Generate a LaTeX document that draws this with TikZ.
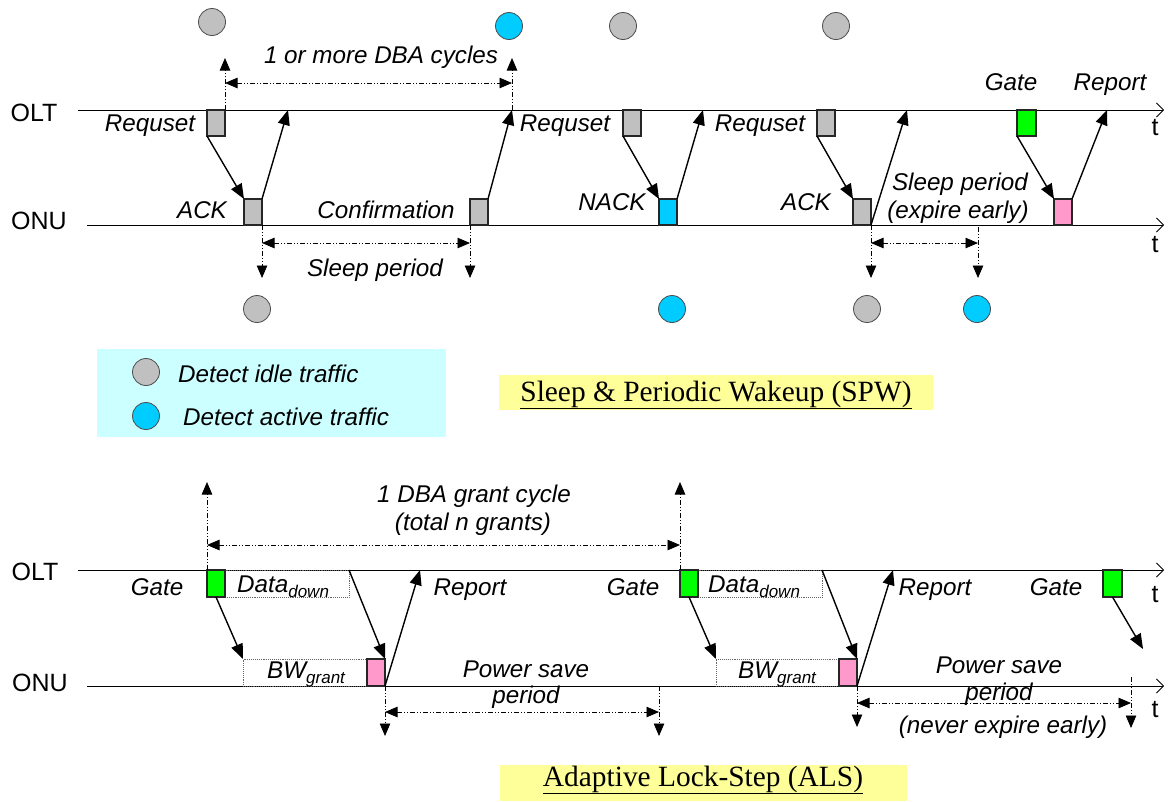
\documentclass[tikz,border=0pt]{standalone}
\usepackage{fontspec}
\setmainfont{Liberation Sans}
\newfontfamily\serifface{Liberation Serif}
\usetikzlibrary{arrows.meta}
\definecolor{boxgray}{HTML}{C0C0C0}
\definecolor{boxcyan}{HTML}{00CCFF}
\definecolor{boxgreen}{HTML}{00FF00}
\definecolor{boxpink}{HTML}{FF99CC}
\definecolor{legendbg}{HTML}{CCFFFF}
\definecolor{titlebg}{HTML}{FFFF99}
\newcommand{\sub}[1]{\raisebox{-5pt}{\fontsize{17}{20}\selectfont #1}}
\begin{document}
\begin{tikzpicture}[x=1pt,y=-1pt,
  axis/.style={line width=1pt,-{Straight Barb[length=7pt,width=14pt,line width=0.8pt]}},
  pkt/.style={draw=black!85,line width=1.2pt,inner sep=0pt,outer sep=0pt,minimum width=18pt,minimum height=26pt,anchor=north west},
  pktb/.style={pkt,minimum height=27pt},
  datarect/.style={draw=black!60,densely dotted,line width=0.9pt,inner sep=0pt,outer sep=0pt,minimum height=27pt,anchor=north west},
  msg/.style={line width=1.4pt,-{Triangle[length=15pt,width=12pt]}},
  dim/.style={line width=0.8pt,dash pattern=on 5pt off 2pt on 1pt off 2pt on 1pt off 2pt,-{Triangle[length=12.5pt,width=10.5pt]}},
  ddim/.style={dim,{Triangle[length=12.5pt,width=10.5pt]}-{Triangle[length=12.5pt,width=10.5pt]}},
  lbl/.style={font=\fontsize{24.2}{28}\selectfont\itshape,inner sep=0pt,anchor=base},
  axlbl/.style={font=\fontsize{25}{28}\selectfont,inner sep=0pt,anchor=base},
  dot/.style={circle,draw=black!70,line width=0.8pt,minimum size=27pt,inner sep=0pt},
  title/.style={font=\serifface\fontsize{29.4}{32}\selectfont,inner sep=0pt,anchor=base}
]
\useasboundingbox (0,0) rectangle (1174,801);

% ================= TOP: SPW =================
\coordinate (olt1s) at (78,110);
\coordinate (olt1e) at (1164,110);
\coordinate (onu1s) at (87,225);
\coordinate (onu1e) at (1164,225);
\draw[axis] (olt1s) -- (olt1e);
\draw[axis] (onu1s) -- (onu1e);
\node[axlbl] (oltA) at (34,121) {OLT};
\node[axlbl] (onuA) at (39,229) {ONU};
\node[axlbl] (tA1) at (1155,135) {t};
\node[axlbl] (tA2) at (1155,252) {t};

% packets
\node[pkt,fill=boxgray] (q1) at (207,110) {};
\node[pkt,fill=boxgray] (a1) at (244,199) {};
\node[pkt,fill=boxgray] (c1) at (470,199) {};
\node[pkt,fill=boxgray] (q2) at (623,110) {};
\node[pkt,fill=boxcyan] (n1) at (659,199) {};
\node[pkt,fill=boxgray] (q3) at (817,110) {};
\node[pkt,fill=boxgray] (a2) at (853,199) {};
\node[pkt,fill=boxgreen,minimum width=19pt] (g1) at (1017,110) {};
\node[pkt,fill=boxpink] (p1) at (1054,199) {};

% messages
\coordinate (r1) at (288,110);
\coordinate (r2) at (512,110);
\coordinate (r3) at (703,110);
\coordinate (r4) at (907,110);
\coordinate (r5) at (1107,110);
\draw[msg] (q1.south west) -- (a1.north west);
\draw[msg] (a1.north east) -- (r1);
\draw[msg] (c1.north east) -- (r2);
\draw[msg] (q2.south west) -- (n1.north west);
\draw[msg] (n1.north east) -- (r3);
\draw[msg] (q3.south west) -- (a2.north west);
\draw[msg] (a2.south east) -- (r4);
\draw[msg] (g1.south west) -- (p1.north west);
\draw[msg] (p1.north east) -- (r5);

% dimension lines
\coordinate (u1) at (225,58);
\coordinate (u2) at (512,58);
\coordinate (h1a) at (225,83);
\coordinate (h1b) at (512,83);
\draw[dim] (q1.north east) -- (u1);
\draw[dim] (r2) -- (u2);
\draw[ddim] (h1a) -- (h1b);

\coordinate (d1) at (262,278);
\coordinate (d2) at (470,278);
\coordinate (h2a) at (262,243);
\coordinate (h2b) at (470,243);
\draw[dim] (a1.south east) -- (d1);
\draw[dim] (c1.south west) -- (d2);
\draw[ddim] (h2a) -- (h2b);

\coordinate (e4) at (978,227);
\coordinate (d3) at (871,278);
\coordinate (d4) at (978,278);
\coordinate (h3a) at (871,243);
\coordinate (h3b) at (978,243);
\draw[dim] (a2.south east) -- (d3);
\draw[dim] (e4) -- (d4);
\draw[ddim] (h3a) -- (h3b);

% labels
\node[lbl] (t1) at (381,63) {1 or more DBA cycles};
\node[lbl] (t2) at (150,131) {Requset};
\node[lbl] (t3) at (202,218) {ACK};
\node[lbl] (t4) at (386,218) {Confirmation};
\node[lbl] (t5) at (375,276) {Sleep period};
\node[lbl] (t6) at (565,131) {Requset};
\node[lbl] (t7) at (612,210) {NACK};
\node[lbl] (t8) at (760,131) {Requset};
\node[lbl] (t9) at (806,210) {ACK};
\node[lbl] (t10) at (960,190) {Sleep period};
\node[lbl] (t11) at (958,218) {(expire early)};
\node[lbl] (t12) at (1011,90) {Gate};
\node[lbl] (t13) at (1110,90) {Report};

% detection circles
\node[dot,fill=boxgray] (k1) at (212,22) {};
\node[dot,fill=boxcyan] (k2) at (509,26) {};
\node[dot,fill=boxgray] (k3) at (623,26) {};
\node[dot,fill=boxgray] (k4) at (836,26) {};
\node[dot,fill=boxgray] (k5) at (257,309) {};
\node[dot,fill=boxcyan] (k6) at (672,309) {};
\node[dot,fill=boxgray] (k7) at (867,309) {};
\node[dot,fill=boxcyan] (k8) at (977,309) {};

% legend
\fill[legendbg] (97,349) rectangle (446,437);
\node[dot,fill=boxgray] (lg1) at (146,372) {};
\node[dot,fill=boxcyan] (lg2) at (146,416) {};
\node[lbl,anchor=base west] (lt1) at (178,382) {Detect idle traffic};
\node[lbl,anchor=base west] (lt2) at (183,425) {Detect active traffic};

% SPW title
\fill[titlebg] (499,375) rectangle (933,410);
\node[title] (spw) at (716,401) {\underline{Sleep \& Periodic Wakeup (SPW)}};

% ================= BOTTOM: ALS =================
\coordinate (olt2s) at (78,570);
\coordinate (olt2e) at (1164,570);
\coordinate (onu2s) at (87,686);
\coordinate (onu2e) at (1164,686);
\draw[axis] (olt2s) -- (olt2e);
\draw[axis] (onu2s) -- (onu2e);
\node[axlbl] (oltB) at (35,580) {OLT};
\node[axlbl] (onuB) at (40,691) {ONU};
\node[axlbl] (tB1) at (1155,602) {t};
\node[axlbl] (tB2) at (1155,717) {t};

% data rectangles
\node[datarect,minimum width=124pt] (dd1) at (225,570) {};
\node[datarect,minimum width=124pt] (bw1) at (243,659) {};
\node[datarect,minimum width=124pt] (dd2) at (698,570) {};
\node[datarect,minimum width=123pt] (bw2) at (716,659) {};

% packets
\node[pktb,fill=boxgreen] (g2) at (207,570) {};
\node[pktb,fill=boxpink] (p2) at (367,659) {};
\node[pktb,fill=boxgreen] (g3) at (680,570) {};
\node[pktb,fill=boxpink] (p3) at (839,659) {};
\node[pktb,fill=boxgreen,minimum width=19pt] (g4) at (1103,570) {};

% messages
\coordinate (r6) at (420,570);
\coordinate (r7) at (893,570);
\coordinate (gend) at (1143,649);
\draw[msg] (g2.south) -- (bw1.north west);
\draw[msg] (dd1.north east) -- (p2.north east);
\draw[msg] (p2.south east) -- (r6);
\draw[msg] (g3.south) -- (bw2.north west);
\draw[msg] (dd2.north east) -- (p3.north east);
\draw[msg] (p3.south east) -- (r7);
\draw[msg] (g4.south) -- (gend);

% dimension lines
\coordinate (u3) at (207,482);
\coordinate (u4) at (680,482);
\coordinate (h4a) at (207,545);
\coordinate (h4b) at (680,545);
\draw[dim] (g2.north west) -- (u3);
\draw[dim] (g3.north west) -- (u4);
\draw[ddim] (h4a) -- (h4b);

\coordinate (s5) at (659,686);
\coordinate (d5) at (385,736);
\coordinate (d6) at (659,736);
\coordinate (h5a) at (385,712);
\coordinate (h5b) at (659,712);
\draw[dim] (p2.south east) -- (d5);
\draw[dim] (s5) -- (d6);
\draw[ddim] (h5a) -- (h5b);

\coordinate (s7) at (1131,677);
\coordinate (d7) at (857,727);
\coordinate (d8) at (1131,728);
\coordinate (h6a) at (857,703);
\coordinate (h6b) at (1131,703);
\draw[dim] (p3.south east) -- (d7);
\draw[dim] (s7) -- (d8);
\draw[ddim] (h6a) -- (h6b);

% labels
\node[lbl] (b1) at (157,595) {Gate};
\node[lbl,anchor=base west] (b2) at (237,592) {Data\sub{down}};
\node[lbl,anchor=base west] (b3) at (267,678) {BW\sub{grant}};
\node[lbl] (b4) at (474,502) {1 DBA grant cycle};
\node[lbl] (b5) at (473,530) {(total n grants)};
\node[lbl] (b6) at (470,595) {Report};
\node[lbl] (b7) at (633,595) {Gate};
\node[lbl,anchor=base west] (b8) at (708,592) {Data\sub{down}};
\node[lbl,anchor=base west] (b9) at (738,678) {BW\sub{grant}};
\node[lbl] (b10) at (526,677) {Power save};
\node[lbl] (b11) at (526,703) {period};
\node[lbl] (b12) at (935,595) {Report};
\node[lbl] (b13) at (1056,595) {Gate};
\node[lbl] (b14) at (999,673) {Power save};
\node[lbl] (b15) at (999,700) {period};
\node[lbl] (b16) at (1003,733) {(never expire early)};

% ALS title
\fill[titlebg] (500,765) rectangle (907,801);
\node[title] (als) at (703,786) {\underline{Adaptive Lock-Step (ALS)}};
\end{tikzpicture}
\end{document}
